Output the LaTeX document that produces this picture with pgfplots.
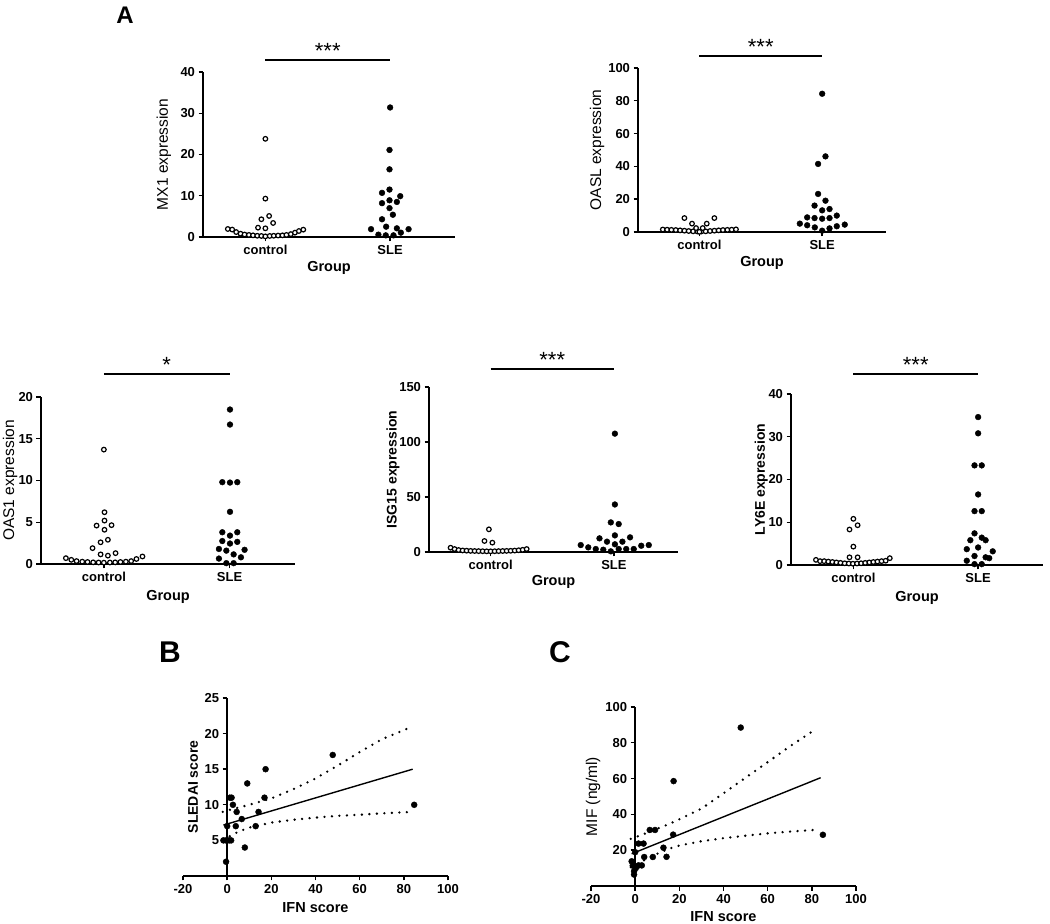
\documentclass[border=0pt]{standalone}
\usepackage{fontspec}
\setmainfont{Liberation Sans}
\usepackage{pgfplots}
\pgfplotsset{compat=1.18}
\newcommand\regylab{\fontsize{15.5}{17}\selectfont}
\newcommand\boldylab{\fontsize{14}{16}\selectfont\bfseries}
\tikzset{
 cidots/.style={line width=2.6pt, line cap=round, dash pattern=on 0pt off 7.5pt},
 sig/.style={line width=1.8pt},
 star/.style={anchor=base, yshift=1.5pt, font=\fontsize{22}{22}\selectfont},
}
\pgfplotsset{
 common/.style={
   scale only axis, anchor=south west, clip=false,
   axis line style={line width=1.6pt, black},
   tick align=outside, major tick length=4.5pt,
   tick style={line width=1.4pt, black},
   tick label style={font=\fontsize{13}{15}\selectfont\bfseries},
   /pgf/number format/assume math mode=true,
   xlabel style={font=\fontsize{14.5}{16}\selectfont\bfseries, anchor=center},
   ylabel style={anchor=center},
 },
 swarm/.style={common, xmin=0.5, xmax=2.52, ymin=0,
   axis x line*=bottom, axis y line*=left,
   xtick={1,2}, xticklabels={control,SLE},
   xlabel={Group}},
 ctrl/.style={only marks, mark=*, mark size=2.3pt, mark options={fill=white, draw=black, line width=1.2pt}},
 sle/.style={only marks, mark=*, mark size=2.9pt, mark options={fill=black, draw=black}},
}
\begin{document}
\begin{tikzpicture}
\path[use as bounding box] (0pt,0pt) rectangle (1050pt,924pt);
\node[font=\fontsize{24}{24}\selectfont\bfseries] at (125pt,909pt) {A};
\node[font=\fontsize{30}{30}\selectfont\bfseries] at (170pt,272pt) {B};
\node[font=\fontsize{30}{30}\selectfont\bfseries] at (560pt,272pt) {C};

% MX1
\begin{axis}[swarm, at={(203pt,687pt)}, width=252pt, height=165pt, ymax=40, ytick={0,10,20,30,40},
  ylabel={MX1 expression}, ylabel style={font=\regylab, at={(axis description cs:-0.155,0.5)}},
  xlabel style={at={(axis description cs:0.5,-0.188)}}]
\addplot[ctrl] coordinates {(0.699,1.94) (0.734,1.8) (0.766,1.2) (0.801,0.8) (0.833,0.6) (0.868,0.5) (0.901,0.4) (0.935,0.3) (0.968,0.25) (1,0.15) (1.035,0.25) (1.067,0.3) (1.102,0.35) (1.137,0.4) (1.169,0.5) (1.204,0.7) (1.237,1.05) (1.269,1.45) (1.304,1.78) (0.941,2.26) (1,2.1) (1.062,3.4) (0.968,4.3) (1.03,5.1) (1,9.3) (1,23.8)};
\addplot[sle] coordinates {(2,31.4) (1.995,21.1) (1.995,16.4) (1.935,10.7) (1.995,11.5) (2.081,9.9) (1.935,8.2) (1.995,8.9) (2.054,8.5) (1.995,7.0) (2.022,5.4) (1.935,4.3) (1.968,2.5) (2.054,2.1) (1.847,1.9) (2.148,1.9) (2.086,1.05) (1.906,0.57) (1.965,0.4) (2.027,0.4)};
\draw[sig] (axis cs:1,42.9) -- (axis cs:2,42.9);
\node[star] at (axis cs:1.5,42.9) {***};
\end{axis}

% OASL
\begin{axis}[swarm, at={(638pt,692pt)}, width=248pt, height=164pt, ymax=100, ytick={0,20,40,60,80,100},
  ylabel={OASL expression}, ylabel style={font=\regylab, at={(axis description cs:-0.165,0.5)}},
  xlabel style={at={(axis description cs:0.5,-0.189)}}]
\addplot[ctrl] coordinates {(0.702,1.5) (0.737,1.4) (0.772,1.3) (0.808,1.2) (0.843,1.0) (0.878,0.8) (0.913,0.6) (0.949,0.4) (0.984,0.3) (1.016,0.3) (1.051,0.4) (1.087,0.6) (1.122,0.8) (1.157,1.0) (1.192,1.2) (1.228,1.3) (1.263,1.4) (1.298,1.6) (0.878,8.5) (1.122,8.5) (0.94,5.1) (1.06,5.1) (0.973,2.4) (1.027,2.4) (1,0.1)};
\addplot[sle] coordinates {(2,84.3) (2.027,46.1) (1.967,41.5) (1.967,23.2) (2.027,19.1) (1.938,16.1) (2,13.2) (2.06,14.0) (1.878,8.9) (1.938,8.5) (2,8.1) (2.06,8.5) (2.119,10.0) (1.818,5.1) (1.878,4.1) (2.184,4.5) (1.94,2.8) (2.06,2.2) (2.119,3.5) (2,0.8)};
\draw[sig] (axis cs:1,107.3) -- (axis cs:2,107.3);
\node[star] at (axis cs:1.5,107.3) {***};
\end{axis}

% OAS1
\begin{axis}[swarm, at={(41pt,360pt)}, width=254pt, height=167pt, ymax=20, ytick={0,5,10,15,20},
  ylabel={OAS1 expression}, ylabel style={font=\regylab, at={(axis description cs:-0.122,0.5)}},
  xlabel style={at={(axis description cs:0.5,-0.2)}}]
\addplot[ctrl] coordinates {(1,13.7) (1.005,6.2) (0.942,4.6) (1.005,5.2) (1.061,4.65) (1.005,4.1) (0.974,2.6) (1.032,2.9) (0.91,1.9) (0.974,1.15) (1.032,1.0) (1.093,1.3) (0.698,0.7) (0.741,0.5) (0.783,0.35) (0.828,0.28) (0.87,0.24) (0.915,0.2) (0.958,0.18) (1,0.16) (1.048,0.18) (1.09,0.2) (1.132,0.24) (1.175,0.28) (1.217,0.35) (1.259,0.6) (1.307,0.9)};
\addplot[sle] coordinates {(2.003,18.5) (2.003,16.7) (1.942,9.8) (2.003,9.75) (2.061,9.8) (2.003,6.25) (1.942,3.8) (2.061,3.8) (2.003,3.4) (1.942,2.75) (2.003,2.45) (2.061,2.65) (1.915,1.8) (1.974,1.6) (2.032,1.15) (2.119,1.7) (1.915,0.65) (2.09,0.8) (1.974,0.1) (2.032,0.1)};
\draw[sig] (axis cs:1,22.75) -- (axis cs:2,22.75);
\node[star] at (axis cs:1.5,22.75) {*};
\end{axis}

% ISG15
\begin{axis}[swarm, at={(429pt,372pt)}, width=249pt, height=165pt, ymax=150, ytick={0,50,100,150},
  ylabel={ISG15 expression}, ylabel style={font=\boldylab, at={(axis description cs:-0.145,0.5)}},
  xlabel style={at={(axis description cs:0.5,-0.18)}}]
\addplot[ctrl] coordinates {(0.986,20.6) (0.95,10) (1.014,8.5) (0.675,3.9) (0.7075,2.7) (0.74,1.8) (0.7725,1.4) (0.805,1.2) (0.8375,1.0) (0.87,0.9) (0.9025,0.8) (0.935,0.7) (0.9675,0.6) (1,0.6) (1.0325,0.7) (1.065,0.8) (1.0975,0.9) (1.13,1.0) (1.1625,1.1) (1.195,1.3) (1.2275,1.6) (1.26,2.0) (1.2925,2.7)};
\addplot[sle] coordinates {(2.008,107.6) (2.008,43.2) (1.975,26.9) (2.039,25.4) (2.008,15.1) (1.883,12.4) (2.131,13.3) (1.944,9.4) (2.069,9.4) (2.008,7.0) (1.731,6.3) (2.222,5.7) (2.283,6.3) (1.792,4.2) (1.853,2.7) (1.914,2.1) (2.1,2.7) (2.161,2.7) (2.039,2.7) (1.975,0.6)};
\draw[sig] (axis cs:1,166.4) -- (axis cs:2,166.4);
\node[star] at (axis cs:1.5,166.4) {***};
\end{axis}

% LY6E
\begin{axis}[swarm, at={(791pt,359pt)}, width=252pt, height=171pt, ymax=40, ytick={0,10,20,30,40},
  ylabel={LY6E expression}, ylabel style={font=\boldylab, at={(axis description cs:-0.118,0.5)}},
  xlabel style={at={(axis description cs:0.5,-0.19)}}]
\addplot[ctrl] coordinates {(1,10.8) (0.969,8.3) (1.034,9.3) (1,4.3) (0.969,1.8) (1.034,1.8) (0.7,1.2) (0.733,0.9) (0.766,0.9) (0.799,0.8) (0.832,0.7) (0.864,0.6) (0.897,0.5) (0.93,0.4) (0.963,0.35) (0.996,0.3) (1.029,0.35) (1.062,0.4) (1.095,0.5) (1.128,0.6) (1.16,0.7) (1.193,0.8) (1.226,0.9) (1.259,1.0) (1.292,1.6)};
\addplot[sle] coordinates {(2,34.6) (2,30.8) (1.971,23.3) (2.029,23.3) (2,16.5) (1.971,12.6) (2.029,12.6) (1.971,7.4) (2.029,6.4) (1.9375,5.8) (2.06,5.8) (2,4.1) (1.909,3.7) (2.117,3.2) (1.971,2.1) (2.06,1.8) (2.089,1.6) (1.909,1.0) (1.971,0.2) (2.029,0.2)};
\draw[sig] (axis cs:1,44.7) -- (axis cs:2,44.7);
\node[star] at (axis cs:1.5,44.7) {***};
\end{axis}

% B
\begin{axis}[common, at={(183pt,48pt)}, width=265pt, height=178pt,
  xmin=-20, xmax=100, ymin=0, ymax=25,
  axis x line*=bottom, axis y line*=center,
  xtick={-20,0,20,40,60,80,100}, ytick={5,10,15,20,25},
  xlabel={IFN score}, ylabel={SLEDAI score},
  xlabel style={at={(axis description cs:0.5,-0.18)}},
  ylabel style={font=\boldylab, at={(axis description cs:0.038,0.5)}}]
\addplot[only marks, mark=*, mark size=3pt, black] coordinates {(-0.5,2) (-1.7,5) (-0.5,5) (0.9,5) (1.8,5) (0,7) (1.2,11) (2.0,11) (2.6,10) (4.3,9) (3.9,7) (6.6,8) (8.0,4) (9.1,13) (12.9,7) (14.2,9) (16.9,11) (17.4,15) (47.8,17) (84.7,10)};
\addplot[line width=1.4pt, black] coordinates {(-1.7,7.15) (84,15.0)};
\addplot[cidots, black] coordinates {(-2,9.0) (0,9.2) (5,9.6) (10,10.0) (20,10.9) (30,12.2) (40,13.7) (50,15.5) (60,17.4) (70,19.2) (84,21.0)};
\addplot[cidots, black] coordinates {(-2,5.2) (0,5.4) (5,6.2) (10,6.8) (20,7.5) (30,7.9) (40,8.2) (50,8.45) (60,8.6) (70,8.8) (84,9.0)};
\end{axis}

% C
\begin{axis}[common, at={(591pt,38pt)}, width=265pt, height=179pt,
  xmin=-20, xmax=100, ymin=0, ymax=100,
  axis x line*=bottom, axis y line*=center,
  xtick={-20,0,20,40,60,80,100}, ytick={20,40,60,80,100},
  xlabel={IFN score}, ylabel={MIF (ng/ml)},
  xlabel style={at={(axis description cs:0.5,-0.17)}},
  ylabel style={font=\regylab, at={(axis description cs:0.008,0.5)}}]
\addplot[only marks, mark=*, mark size=3pt, black] coordinates {(-1.6,13.8) (-1.1,11.4) (-0.5,8.3) (-0.5,6.4) (0,18.9) (0.3,10) (1.6,11.5) (3.0,11.5) (1.5,23.7) (3.8,23.7) (4.1,16.2) (6.6,31.3) (9.0,31.3) (8.0,16.2) (12.8,21.4) (14.2,16.3) (17.2,28.7) (17.4,58.6) (47.8,88.5) (85.0,28.6)};
\addplot[line width=1.4pt, black] coordinates {(-1.6,18.0) (84,60.5)};
\addplot[cidots, black] coordinates {(-2,26.3) (0,27.2) (5,29.5) (10,32.0) (15,34.4) (20,37.3) (30,43.2) (40,51.8) (50,60.5) (60,69.2) (70,78) (82,87.8)};
\addplot[cidots, black] coordinates {(-2,10.5) (0,11.8) (5,15) (10,18) (15,20.7) (20,22.6) (30,25) (40,26.7) (50,28.1) (60,29.4) (70,30.4) (82,31.4)};
\end{axis}
\end{tikzpicture}
\end{document}
